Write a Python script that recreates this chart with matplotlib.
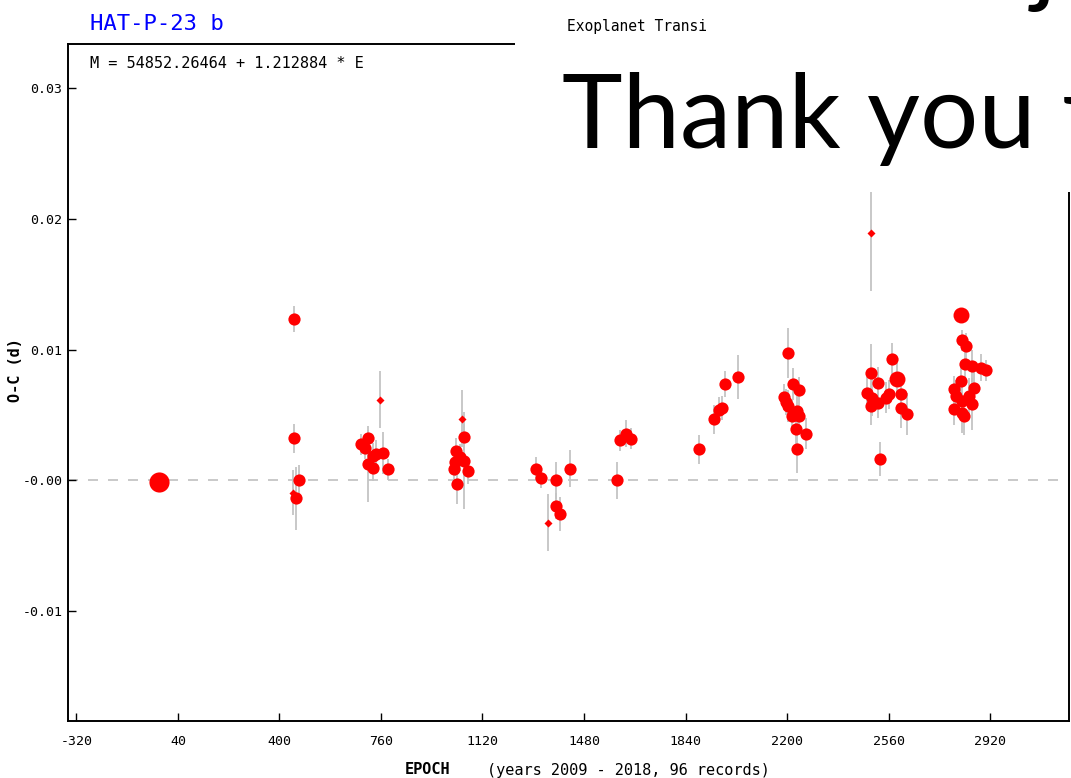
import matplotlib.pyplot as plt
from matplotlib.patches import Rectangle

# ETD O-C data for HAT-P-23 b
epoch = [
    -26,
    452, 452, 469, 458, 448,
    690, 714, 702, 732, 744, 714, 732, 755, 767, 785,
    1048, 1053, 1055, 1027, 1039, 1021, 1019, 1068, 1029,
    1310, 1328, 1352, 1381, 1379, 1395, 1431,
    1596, 1608, 1629, 1645,
    1889, 1940, 1960, 1969, 1981, 2025,
    2204, 2220, 2241, 2190, 2197, 2205, 2237, 2217, 2243, 2232, 2267, 2237,
    2499, 2574, 2499, 2524, 2589, 2485, 2503, 2521, 2497, 2562, 2551, 2604,
    2604, 2627, 2530,
    2816, 2822, 2834, 2831, 2857, 2907, 2887, 2816, 2792, 2863, 2798, 2846,
    2822, 2792, 2822, 2826, 2857,
]
o_c = [
    -0.0001,
    0.01237, 0.00323, 0.00000, -0.00136, -0.00093,
    0.00277, 0.00327, 0.00251, 0.00187, 0.00200, 0.00124, 0.00098, 0.00618,
    0.00208, 0.00086,
    0.00473, 0.00333, 0.00150, 0.00226, 0.00175, 0.00140, 0.00086, 0.00073,
    -0.00024,
    0.00090, 0.00021, -0.00323, 0.00000, -0.00195, -0.00259, 0.00090,
    0.00000, 0.00307, 0.00358, 0.00320,
    0.00239, 0.00468, 0.00539, 0.00552, 0.00740, 0.00792,
    0.00975, 0.00736, 0.00690, 0.00639, 0.00600, 0.00570, 0.00532, 0.00493,
    0.00493, 0.00392, 0.00358, 0.00239,
    0.01890, 0.00927, 0.00824, 0.00748, 0.00774, 0.00672, 0.00633, 0.00595,
    0.00570, 0.00659, 0.00633, 0.00659, 0.00557, 0.00506, 0.00162,
    0.01263, 0.01072, 0.01029, 0.00893, 0.00876, 0.00843, 0.00863, 0.00761,
    0.00697, 0.00710, 0.00646, 0.00646, 0.00608, 0.00545, 0.00519, 0.00490,
    0.00583,
]
o_c_err = [
    0.0002,
    0.0010, 0.0011, 0.0012, 0.0024, 0.0017,
    0.0008, 0.0006, 0.0009, 0.0010, 0.0011, 0.0029, 0.0010, 0.0022, 0.0016,
    0.0008,
    0.0022, 0.0010, 0.0037, 0.0010, 0.0010, 0.0011, 0.0009, 0.0010, 0.0016,
    0.0009, 0.0008, 0.0022, 0.0014, 0.0010, 0.0013, 0.0014,
    0.0014, 0.0008, 0.0010, 0.0008,
    0.0011, 0.0011, 0.0010, 0.0009, 0.0010, 0.0017,
    0.0019, 0.0012, 0.0010, 0.0010, 0.0010, 0.0012, 0.0011, 0.0012, 0.0010,
    0.0016, 0.0012, 0.0018,
    0.0044, 0.0012, 0.0022, 0.0012, 0.0012, 0.0012, 0.0014, 0.0012, 0.0015,
    0.0011, 0.0012, 0.0010, 0.0016, 0.0016, 0.0013,
    0.0004, 0.0008, 0.0010, 0.0012, 0.0012, 0.0008, 0.0010, 0.0012, 0.0010,
    0.0012, 0.0012, 0.0014, 0.0014, 0.0012, 0.0016, 0.0014, 0.0020,
]
# data quality class: 1 = poor (small mark) ... 4 = best (large mark)
quality = [
    4,
    2, 2, 2, 2, 1,
    2, 2, 2, 2, 2, 2, 2, 1, 2, 2,
    1, 2, 2, 2, 2, 2, 2, 2, 2,
    2, 2, 1, 2, 2, 2, 2,
    2, 2, 2, 2,
    2, 2, 2, 2, 2, 2,
    2, 2, 2, 2, 2, 2, 2, 2, 2, 2, 2, 2,
    1, 2, 2, 2, 3, 2, 2, 2, 2, 2, 2, 2, 2, 2, 2,
    3, 2, 2, 2, 2, 2, 2, 2, 2, 2, 2, 2, 2, 2, 2, 2, 2,
]

x_ticks = [-320, 40, 400, 760, 1120, 1480, 1840, 2200, 2560, 2920]
y_ticks = [0.03, 0.02, 0.01, 0.0, -0.01]
y_tick_labels = ["0.03", "0.02", "0.01", "-0.00", "-0.01"]

MONO = "DejaVu Sans Mono"
W, H = 1071, 778

fig = plt.figure(figsize=(W / 100, H / 100), dpi=100)
ax = fig.add_axes([68 / W, 1 - 721 / H, (1069 - 68) / W, (721 - 44) / H])

ax.axhline(0, color="#c0c0c0", lw=1.2, dashes=(6, 6), zorder=1)
lo = [v - e for v, e in zip(o_c, o_c_err)]
hi = [v + e for v, e in zip(o_c, o_c_err)]
ax.vlines(epoch, lo, hi, color="#c4c4c4", lw=1.3, zorder=2)

marker_style = {1: ("D", 4.5), 2: ("o", 8.8), 3: ("o", 11.5), 4: ("o", 14.5)}
for q, (mk, ms) in marker_style.items():
    xs = [e for e, qq in zip(epoch, quality) if qq == q]
    ys = [v for v, qq in zip(o_c, quality) if qq == q]
    ax.plot(xs, ys, ls="none", marker=mk, ms=ms, color="#ff0000", mec="none", zorder=3)

ax.set_xlim(-350, 3200)
ax.set_ylim(-0.0184, 0.03337)
ax.set_xticks(x_ticks)
ax.set_xticklabels([str(t) for t in x_ticks], family=MONO, fontsize=9.5)
ax.set_yticks(y_ticks)
ax.set_yticklabels(y_tick_labels, family=MONO, fontsize=9.5)
ax.tick_params(axis="x", direction="in", length=6, width=1, pad=10)
ax.tick_params(axis="y", direction="in", length=6, width=1, pad=4)
for spine in ax.spines.values():
    spine.set_linewidth(1.4)

fig.text(16 / W, 1 - 370 / H, "O-C (d)", family=MONO, fontweight="bold",
         fontsize=11, rotation=90, ha="center", va="center")
fig.text(405 / W, 1 - 770 / H, "EPOCH", family=MONO, fontweight="bold",
         fontsize=11, ha="left", va="center")
fig.text(487 / W, 1 - 770 / H, "(years 2009 - 2018, 96 records)", family=MONO,
         fontsize=11, ha="left", va="center")

fig.text(90 / W, 1 - 24 / H, "HAT-P-23 b", family=MONO, fontsize=16,
         color="#0000ff", ha="left", va="center")
fig.text(90 / W, 1 - 63 / H, "M = 54852.26464 + 1.212884 * E", family=MONO,
         fontsize=11, ha="left", va="center")

# slide overlay covering the top-right part of the chart
fig.add_artist(Rectangle((515 / W, 1 - 192 / H), 1 - 515 / W, 192 / H,
                         transform=fig.transFigure, facecolor="white",
                         edgecolor="none", zorder=5))
fig.text(567 / W, 1 - 27 / H, "Exoplanet Transi", family=MONO, fontsize=10.5,
         ha="left", va="center", zorder=6)
fig.text(562 / W, 1 - 148 / H, "Thank you f", family="Lato", fontsize=74,
         ha="left", va="baseline", zorder=6)
fig.text(1032 / W, 1 + 6 / H, "j", family="Lato", fontsize=74,
         ha="left", va="baseline", zorder=6)

fig.savefig("out.png", dpi=100)
